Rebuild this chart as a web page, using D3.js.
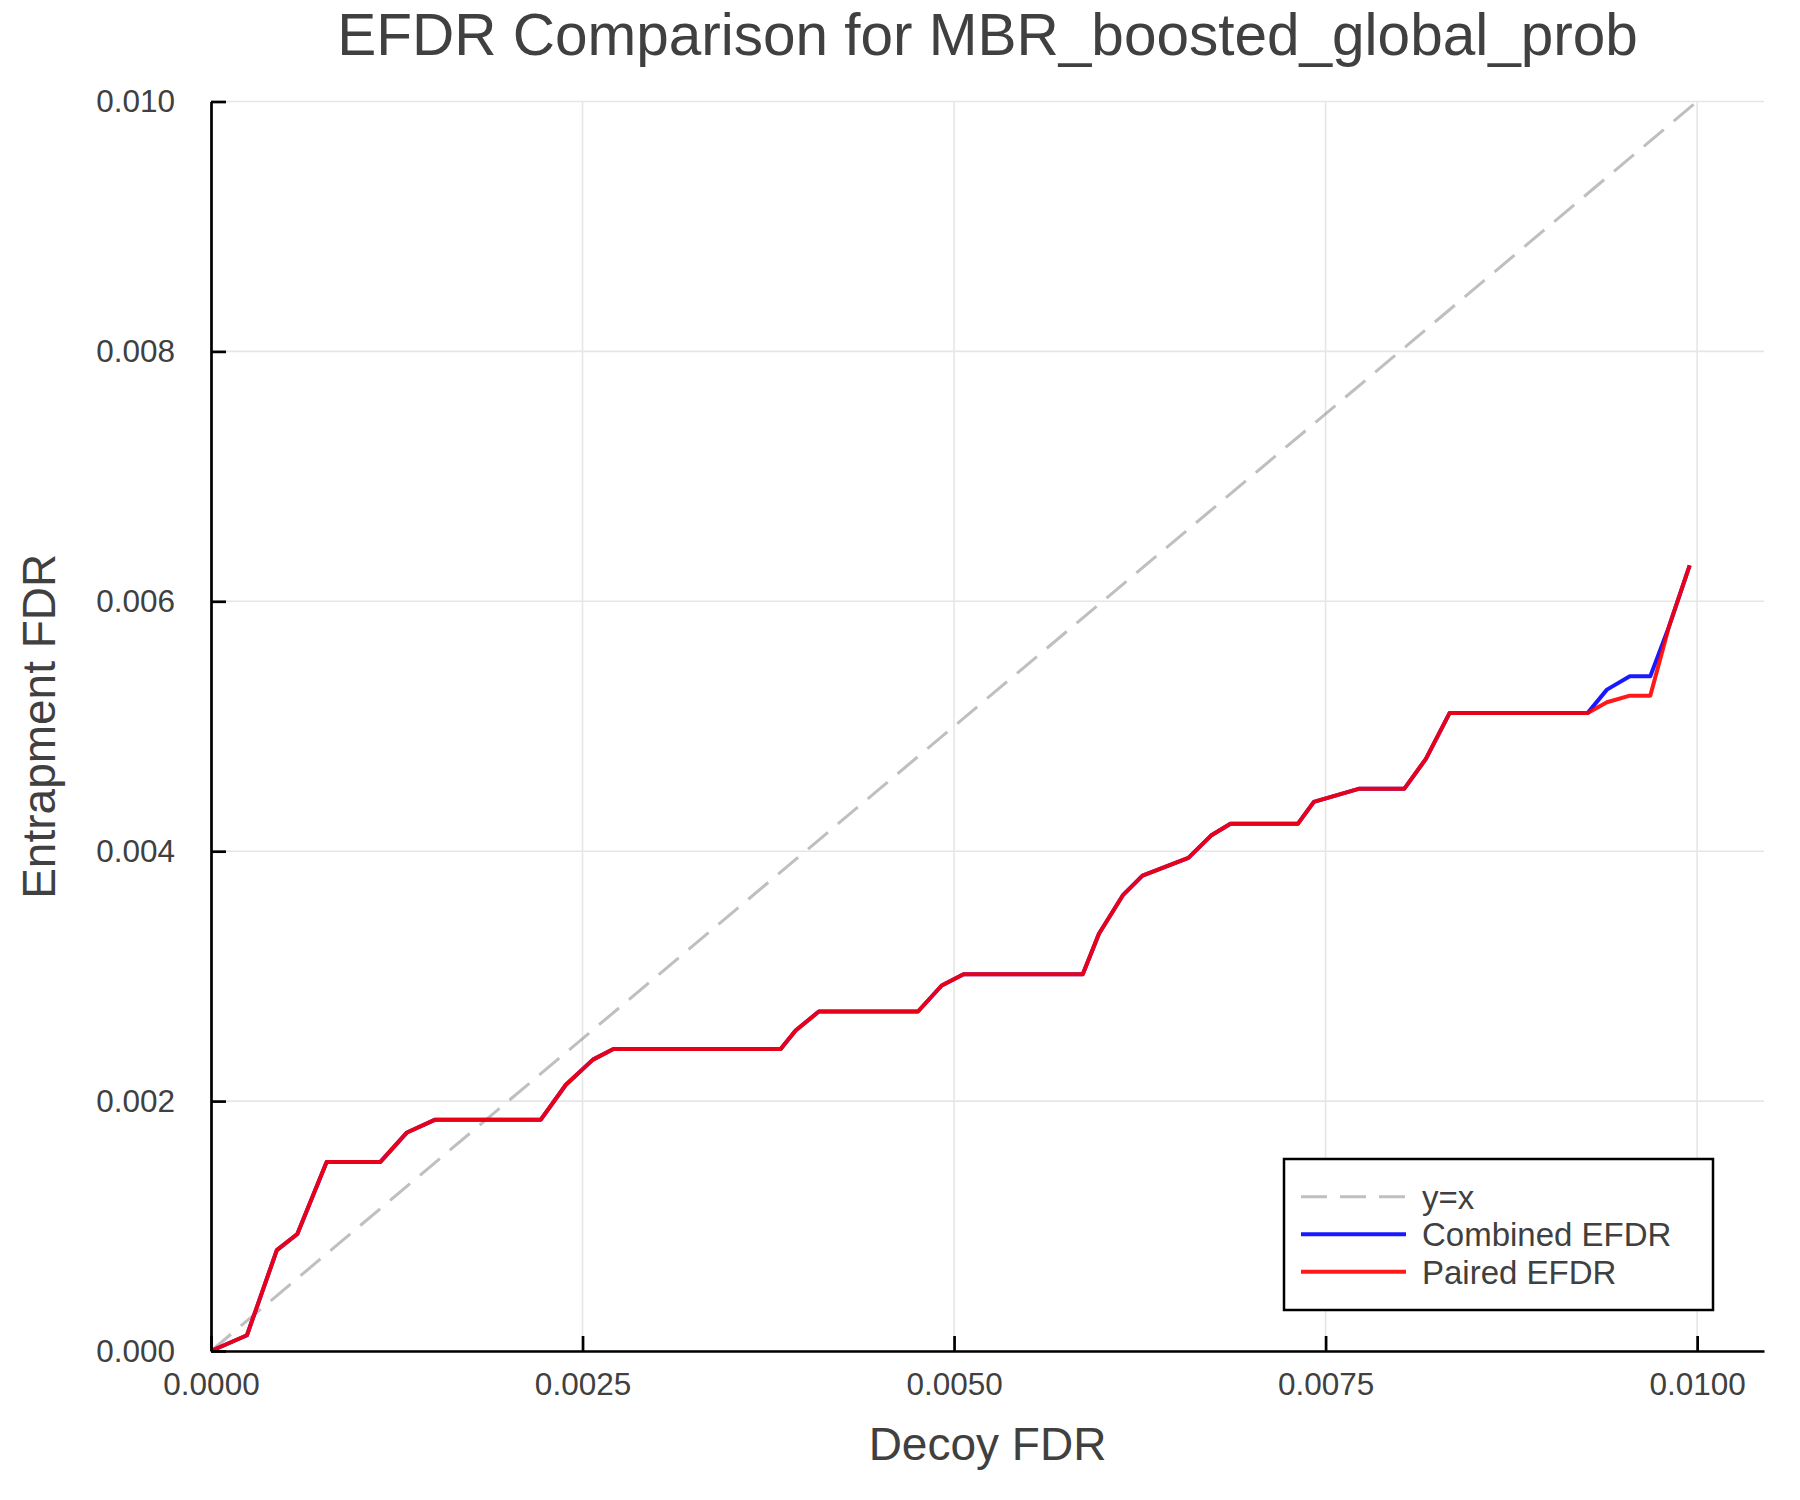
<!DOCTYPE html>
<html>
<head>
<meta charset="utf-8">
<script src="https://cdn.jsdelivr.net/npm/d3@7"></script>
<style>
  body { margin: 0; background: #ffffff; }
  text { font-family: 'Liberation Sans', Helvetica, Arial, sans-serif; fill: #404040; }
</style>
</head>
<body>
<div class="vis-holder"></div>
<script>
// decoy FDR thresholds (x) shared by both curves
var decoyFdr = [0, 0.000242, 0.000443, 0.000581, 0.000778, 0.00114, 0.001319, 0.001505,
  0.002218, 0.002388, 0.00257, 0.002708, 0.003833, 0.003934, 0.00409, 0.004757,
  0.004917, 0.005064, 0.005866, 0.005975, 0.006138, 0.006268, 0.006577, 0.006729,
  0.00686, 0.007313, 0.007421, 0.007722, 0.008029, 0.008175, 0.008335, 0.009264,
  0.009393, 0.009547, 0.009685, 0.00981, 0.00995];

// entrapment FDR, combined method
var combinedEfdr = [0, 0.000126, 0.000807, 0.000936, 0.001513, 0.001513, 0.001749, 0.00185,
  0.00185, 0.002131, 0.002332, 0.002417, 0.002417, 0.002565, 0.002717, 0.002717,
  0.002925, 0.003016, 0.003016, 0.003339, 0.003651, 0.003805, 0.003947, 0.004125,
  0.004219, 0.004219, 0.004395, 0.004499, 0.004499, 0.004739, 0.005107, 0.005107,
  0.005293, 0.0054, 0.0054, 0.005795, 0.006288];

// entrapment FDR, paired method
var pairedEfdr = [0, 0.000126, 0.000807, 0.000936, 0.001513, 0.001513, 0.001749, 0.00185,
  0.00185, 0.002131, 0.002332, 0.002417, 0.002417, 0.002565, 0.002717, 0.002717,
  0.002925, 0.003016, 0.003016, 0.003339, 0.003651, 0.003805, 0.003947, 0.004125,
  0.004219, 0.004219, 0.004395, 0.004499, 0.004499, 0.004739, 0.005107, 0.005107,
  0.005192, 0.005245, 0.005245, 0.005795, 0.006288];

// reference diagonal
var diagonal = [0, 0.01];

var xTicks = [0, 0.0025, 0.005, 0.0075, 0.01];
var yTicks = [0, 0.002, 0.004, 0.006, 0.008, 0.01];
var xMax = 0.01045;
var yMax = 0.01;

var legendNames = ['y=x', 'Combined EFDR', 'Paired EFDR'];

var width = 1800;
var height = 1500;
var margin = {
  top: 101.5,
  bottom: 149,
  left: 211,
  right: 36
};

var svg = d3.select('.vis-holder')
  .append('svg')
  .attr('width', width)
  .attr('height', height);

var xScale = d3.scaleLinear()
  .domain([0, xMax])
  .range([margin.left, width - margin.right]);

var yScale = d3.scaleLinear()
  .domain([0, yMax])
  .range([height - margin.bottom, margin.top]);

// grid
svg.append('g')
  .selectAll('line')
  .data(xTicks)
  .enter().append('line')
  .attr('x1', function(d){ return xScale(d); })
  .attr('x2', function(d){ return xScale(d); })
  .attr('y1', yScale(0))
  .attr('y2', yScale(yMax))
  .attr('stroke', '#e6e6e6')
  .attr('stroke-width', 1.6);

svg.append('g')
  .selectAll('line')
  .data(yTicks)
  .enter().append('line')
  .attr('x1', xScale(0))
  .attr('x2', xScale(xMax))
  .attr('y1', function(d){ return yScale(d); })
  .attr('y2', function(d){ return yScale(d); })
  .attr('stroke', '#e6e6e6')
  .attr('stroke-width', 1.6);

var line = d3.line()
  .x(function(d){ return xScale(d[0]); })
  .y(function(d){ return yScale(d[1]); });

// y = x
svg.append('path')
  .attr('d', line(diagonal.map(function(v){ return [v, v]; })))
  .attr('fill', 'none')
  .attr('stroke', '#808080')
  .attr('stroke-opacity', 0.5)
  .attr('stroke-width', 3)
  .attr('stroke-dasharray', '26,13');

svg.append('path')
  .attr('d', line(decoyFdr.map(function(x, i){ return [x, combinedEfdr[i]]; })))
  .attr('fill', 'none')
  .attr('stroke', '#0000ff')
  .attr('stroke-opacity', 0.9)
  .attr('stroke-width', 4)
  .attr('stroke-linejoin', 'round');

svg.append('path')
  .attr('d', line(decoyFdr.map(function(x, i){ return [x, pairedEfdr[i]]; })))
  .attr('fill', 'none')
  .attr('stroke', '#ff0000')
  .attr('stroke-opacity', 0.9)
  .attr('stroke-width', 4)
  .attr('stroke-linejoin', 'round');

// axes, ticks point inward
var xAxis = d3.axisBottom(xScale)
  .tickValues(xTicks)
  .tickFormat(d3.format('.4f'))
  .tickSizeInner(-15)
  .tickSizeOuter(0)
  .tickPadding(22);

var yAxis = d3.axisLeft(yScale)
  .tickValues(yTicks)
  .tickFormat(d3.format('.3f'))
  .tickSizeInner(-15)
  .tickSizeOuter(0)
  .tickPadding(36);

var gx = svg.append('g')
  .attr('transform', 'translate(0,' + yScale(0) + ')')
  .call(xAxis);

var gy = svg.append('g')
  .attr('transform', 'translate(' + xScale(0) + ',0)')
  .call(yAxis);

[gx, gy].forEach(function(g){
  g.select('.domain').attr('stroke', '#000').attr('stroke-width', 2.7);
  g.selectAll('.tick line').attr('stroke', '#000').attr('stroke-width', 2.7);
  g.selectAll('.tick text')
    .attr('fill', '#404040')
    .style('font-size', '31.5px')
    .style('font-family', "'Liberation Sans', Helvetica, Arial, sans-serif");
});

// title and axis labels
svg.append('text')
  .attr('x', (xScale(0) + xScale(xMax)) / 2)
  .attr('y', 55)
  .style('text-anchor', 'middle')
  .style('font-size', '58.5px')
  .text('EFDR Comparison for MBR_boosted_global_prob');

svg.append('text')
  .attr('x', (xScale(0) + xScale(xMax)) / 2)
  .attr('y', 1460)
  .style('text-anchor', 'middle')
  .style('font-size', '46px')
  .text('Decoy FDR');

svg.append('text')
  .attr('transform', 'translate(55,' + ((yScale(0) + yScale(yMax)) / 2) + ') rotate(-90)')
  .style('text-anchor', 'middle')
  .style('font-size', '46px')
  .text('Entrapment FDR');

// legend
var legend = svg.append('g').attr('transform', 'translate(1284,1159)');

legend.append('rect')
  .attr('width', 429)
  .attr('height', 151)
  .attr('fill', '#ffffff')
  .attr('stroke', '#000')
  .attr('stroke-width', 2.5);

var legendStyles = [
  { color: '#808080', opacity: 0.5, dash: '26,13', w: 3 },
  { color: '#0000ff', opacity: 0.9, dash: null, w: 4 },
  { color: '#ff0000', opacity: 0.9, dash: null, w: 4 }
];

legendNames.forEach(function(name, i){
  var rowY = 37.7 + i * 37.5;
  var s = legendStyles[i];
  legend.append('line')
    .attr('x1', 17)
    .attr('x2', 122)
    .attr('y1', rowY)
    .attr('y2', rowY)
    .attr('stroke', s.color)
    .attr('stroke-opacity', s.opacity)
    .attr('stroke-width', s.w)
    .attr('stroke-dasharray', s.dash);
  legend.append('text')
    .attr('x', 138)
    .attr('y', rowY + 12)
    .style('font-size', '33px')
    .text(name);
});
</script>
</body>
</html>
